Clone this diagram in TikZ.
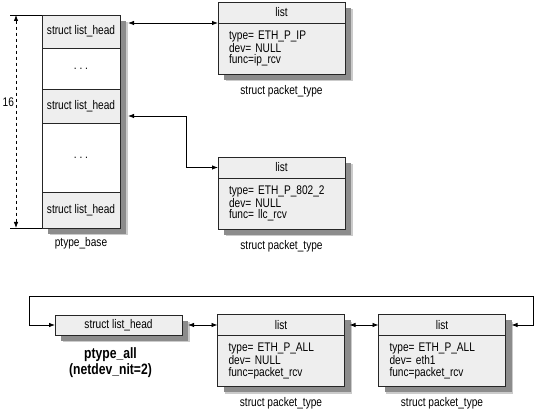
\documentclass[tikz,border=0pt]{standalone}
\usepackage{fontspec}
\setmainfont{Liberation Sans}[FakeStretch=0.81]
\usepackage{tikz}
\usetikzlibrary{positioning}
\usetikzlibrary{arrows.meta}
\usetikzlibrary{shadows}
\definecolor{boxgray}{HTML}{EEEEEE}
\definecolor{shadegray}{HTML}{8C8C8C}

\begin{document}
\begin{tikzpicture}[x=1pt, y=1pt,
    every node/.style={font=\fontsize{12.5}{11.5}\selectfont, outer sep=0pt},
    dropshade/.style={drop shadow={shadow xshift=7.5pt, shadow yshift=-7.5pt, fill=shadegray!45, opacity=1},
                      drop shadow={shadow xshift=6pt, shadow yshift=-6pt, fill=shadegray, opacity=1}},
    slot/.style={draw=black!85, line width=0.8pt, fill=boxgray, minimum width=78pt, dropshade},
    gap/.style={slot, fill=white},
    hdr/.style={draw=black!85, line width=0.8pt, fill=boxgray, minimum width=127pt, minimum height=21pt, dropshade},
    fields/.style={hdr, minimum height=51pt, text width=105pt, inner xsep=11pt, align=left},
    caption/.style={inner sep=2pt},
    link/.style={{Latex[length=6pt,width=4.5pt]}-{Latex[length=6pt,width=4.5pt]}, line width=0.8pt}]
\useasboundingbox (0,0) rectangle (547,417);

% ptype_base table
\node[slot, minimum height=33pt] (head1) at (81,385.5) {struct list\_head};
\node[gap, minimum height=41pt, below=0pt of head1] (dots1) {.\ .\ .};
\node[slot, minimum height=34pt, below=0pt of dots1] (head2) {struct list\_head};
\node[gap, minimum height=69pt, below=0pt of head2] (dots2) {.\ .\ .};
\node[slot, minimum height=36pt, below=0pt of dots2] (head3) {struct list\_head};
\node[caption, below=7pt of head3] (basecap) {ptype\_base};

\draw[line width=0.8pt] (head1.north west) -- ++(-32,0) coordinate (dimtop);
\draw[line width=0.8pt] (head3.south west) -- ++(-32,0) coordinate (dimbot);
\draw[dashed, line width=0.8pt, {Latex[length=6pt,width=4.5pt]}-{Latex[length=6pt,width=4.5pt]}]
    ([xshift=6pt]dimtop) -- ([xshift=6pt]dimbot) node[pos=0.41, left, inner sep=2pt] (count) {16};

% packet_type entries
\node[hdr] (iphead) at (281.5,404.5) {list};
\node[fields, below=0pt of iphead] (ipbody) {type= ETH\_P\_IP\\dev= NULL\\func=ip\_rcv};
\node[caption, below=9pt of ipbody] (ipcap) {struct packet\_type};

\node[hdr] (llchead) at (281.5,249.5) {list};
\node[fields, below=0pt of llchead] (llcbody) {type= ETH\_P\_802\_2\\dev= NULL\\func= llc\_rcv};
\node[caption, below=9pt of llcbody] (llccap) {struct packet\_type};

\node[hdr, minimum height=20pt] (listhead) at (118.5,92) {struct list\_head};
\node[font=\fontsize{15}{16}\selectfont\bfseries, align=center, below=9pt of listhead, xshift=-8pt] (allcap) {ptype\_all\\(netdev\_nit=2)};

\node[hdr] (allhead) at (281,92) {list};
\node[fields, below=0pt of allhead] (allbody) {type= ETH\_P\_ALL\\dev= NULL\\func=packet\_rcv};
\node[caption, below=9pt of allbody] (allcap2) {struct packet\_type};

\node[hdr] (eth1head) at (442,92) {list};
\node[fields, below=0pt of eth1head] (eth1body) {type= ETH\_P\_ALL\\dev= eth1\\func=packet\_rcv};
\node[caption, below=9pt of eth1body] (eth1cap) {struct packet\_type};

% links
\draw[link] ([xshift=8pt]ipbody.north west -| head1.east) -- (ipbody.north west);
\draw[link] ([xshift=8pt,yshift=-10pt]head2.east) -- ++(58,0) |- (llchead.west);
\draw[link] ([xshift=6pt]listhead.east) -- (allhead.west);
\draw[link] ([xshift=5pt]allhead.east) -- (eth1head.west);
\draw[link] ([xshift=6pt]eth1head.east) -- ++(22,0) |- ([xshift=-26pt,yshift=29pt]listhead.west) |- (listhead.west);
\end{tikzpicture}
\end{document}
